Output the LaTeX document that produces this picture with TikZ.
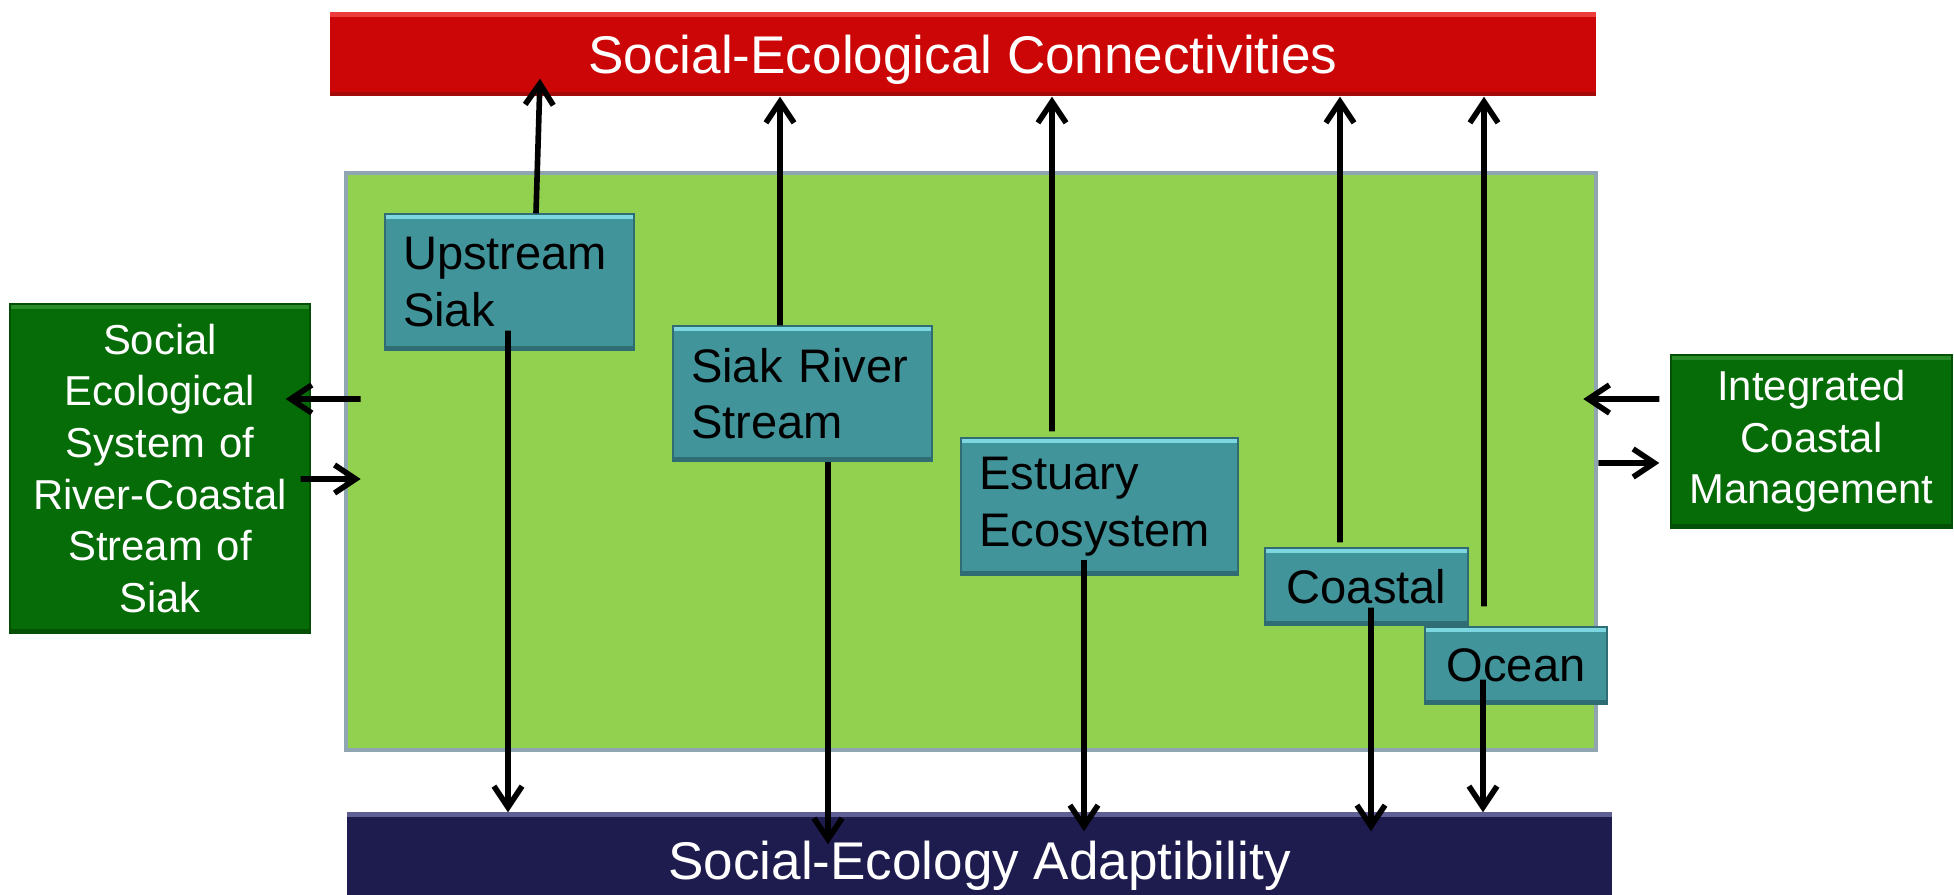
\documentclass[tikz,border=0pt]{standalone}
\usepackage{fontspec}
\setmainfont{Liberation Sans}
\usepackage{tikz}
\usetikzlibrary{arrows.meta}

\definecolor{secred}{RGB}{204,6,6}
\definecolor{secredhi}{RGB}{236,60,60}
\definecolor{secreddk}{RGB}{165,10,10}
\definecolor{seanavy}{RGB}{30,28,78}
\definecolor{seanavyhi}{RGB}{95,95,150}
\definecolor{unitteal}{RGB}{66,148,155}
\definecolor{unittealhi}{RGB}{125,215,225}
\definecolor{unittealdk}{RGB}{48,108,115}
\definecolor{sysgreen}{RGB}{146,208,80}
\definecolor{sysedge}{RGB}{143,165,178}
\definecolor{sidegreen}{RGB}{6,108,8}
\definecolor{sidegreenhi}{RGB}{40,140,40}
\definecolor{sidegreendk}{RGB}{4,80,6}

\tikzset{
  bevel/.style 2 args={path picture={
    \fill[#1] (path picture bounding box.north west) rectangle ([yshift=-0.05cm]path picture bounding box.north east);
    \fill[#2] (path picture bounding box.south west) rectangle ([yshift=0.04cm]path picture bounding box.south east);}},
  barbox/.style={rectangle,inner sep=0pt,text=white,text depth=0pt,font=\fontsize{15.1}{18}\selectfont},
  unitbox/.style={rectangle,fill=unitteal,draw=unittealdk,line width=0.4pt,inner sep=0pt,
    bevel={unittealhi}{unittealdk},font=\fontsize{13.4}{16.1}\selectfont},
  sidebox/.style={rectangle,fill=sidegreen,draw=sidegreendk,line width=0.4pt,inner sep=0pt,text=white,
    bevel={sidegreenhi}{sidegreendk},align=center,font=\fontsize{11.9}{14.7}\selectfont},
  arr/.style={-{Straight Barb[length=6pt,width=8pt]},line width=1.6pt,black}
}

\begin{document}
\begin{tikzpicture}
\useasboundingbox (0,0) rectangle (19.54,8.94);

\node[rectangle,fill=sysgreen,draw=sysedge,line width=1.3pt,minimum width=12.50cm,minimum height=5.77cm] at (9.71,4.325) (sys){};

\node[barbox,fill=secred,bevel={secredhi}{secreddk},minimum width=12.66cm,minimum height=0.84cm] at (9.63,8.40) (sec){Social-Ecological Connectivities};
\node[barbox,fill=seanavy,bevel={seanavyhi}{seanavy},minimum width=12.65cm,minimum height=0.96cm] at (9.795,0.34) (sea){Social-Ecology Adaptibility};

\node[sidebox,text width=2.8cm,minimum width=3.00cm,minimum height=3.29cm] at (1.60,4.255) (ses){Social\\Ecological\\System of\\River-Coastal\\Stream of\\Siak};
\node[sidebox,text width=2.7cm,minimum width=2.81cm,minimum height=1.73cm] at (18.115,4.525) (icm){Integrated\\Coastal\\Management};

  \node[unitbox,align=left,text width=2.13cm,minimum width=2.49cm,minimum height=1.36cm] at (5.095,6.12) (up){Upstream\\Siak};
  \node[unitbox,align=left,text width=2.23cm,minimum width=2.59cm,minimum height=1.35cm] at (8.025,5.005) (srs){Siak River\\Stream};
  \node[unitbox,align=left,text width=2.40cm,minimum width=2.77cm,minimum height=1.37cm] at (10.995,3.875) (est){Estuary\\Ecosystem};
  \node[unitbox,align=center,text width=1.80cm,minimum width=2.03cm,minimum height=0.77cm] at (13.665,3.075) (coa){Coastal};
  \node[unitbox,align=center,text width=1.60cm,minimum width=1.82cm,minimum height=0.77cm] at (15.16,2.285) (oce){Ocean};

  \draw[arr] ([xshift=0.265cm]up.north) -- ([xshift=-4.23cm,yshift=0.18cm]sec.south);
  \draw[arr] ([xshift=-0.225cm]srs.north) -- ([xshift=-1.83cm]sec.south);
  \draw[arr] ([xshift=-0.475cm,yshift=0.06cm]est.north) -- ([xshift=0.89cm]sec.south);
  \draw[arr] ([xshift=-0.265cm,yshift=0.05cm]coa.north) -- ([xshift=3.77cm]sec.south);
  \draw[arr] ([xshift=-0.32cm,yshift=0.20cm]oce.north) -- ([xshift=5.21cm]sec.south);

  \draw[arr] ([xshift=-0.015cm,yshift=0.20cm]up.south) -- ([xshift=-4.715cm,yshift=-0.01cm]sea.north);
  \draw[arr] ([xshift=0.255cm]srs.south) -- ([xshift=-1.515cm,yshift=-0.33cm]sea.north);
  \draw[arr] ([xshift=-0.155cm,yshift=0.16cm]est.south) -- ([xshift=1.045cm,yshift=-0.20cm]sea.north);
  \draw[arr] ([xshift=0.045cm,yshift=0.18cm]coa.south) -- ([xshift=3.915cm,yshift=-0.20cm]sea.north);
  \draw[arr] ([xshift=-0.33cm,yshift=0.25cm]oce.south) -- ([xshift=5.035cm,yshift=-0.01cm]sea.north);

  \draw[arr] ([xshift=0.17cm,yshift=0.625cm]sys.west) -- ([xshift=-0.25cm,yshift=0.695cm]ses.east);
  \draw[arr] ([xshift=-0.10cm,yshift=-0.105cm]ses.east) -- ([xshift=0.17cm,yshift=-0.175cm]sys.west);
  \draw[arr] ([xshift=-0.11cm,yshift=0.425cm]icm.west) -- ([xshift=-0.15cm,yshift=0.625cm]sys.east);
  \draw[arr] ([yshift=-0.015cm]sys.east) -- ([xshift=-0.11cm,yshift=-0.215cm]icm.west);

\end{tikzpicture}
\end{document}
